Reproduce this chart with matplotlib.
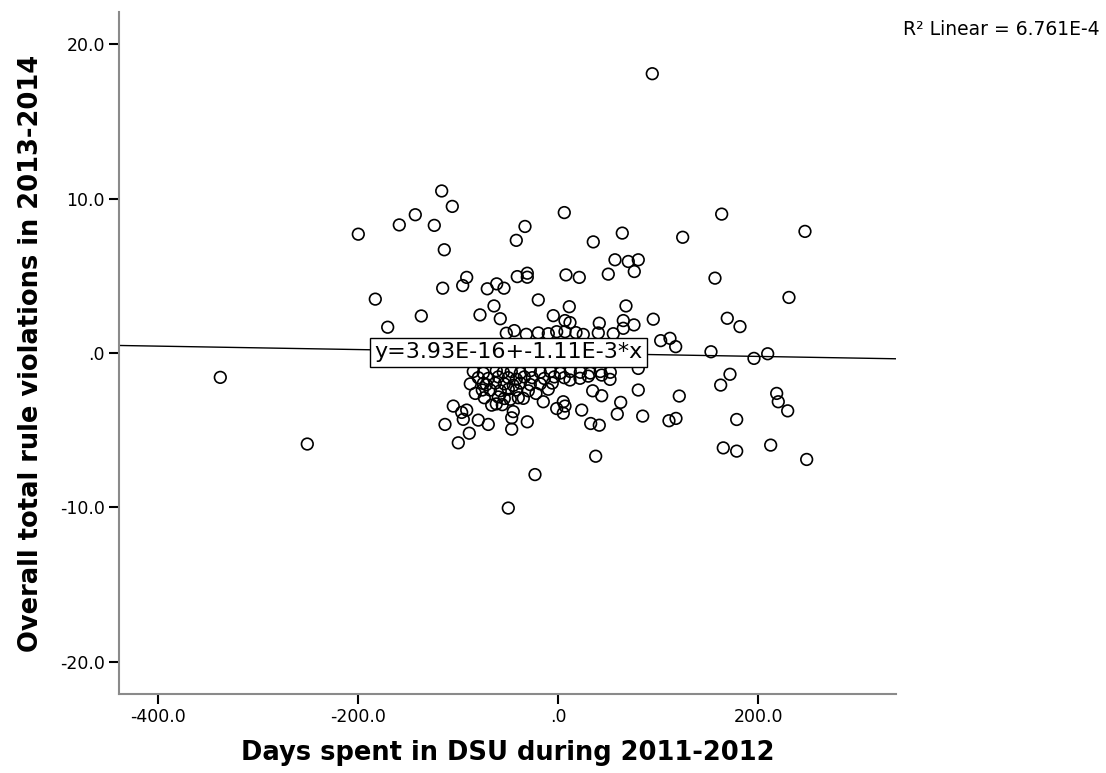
import numpy as np
import matplotlib
matplotlib.use("Agg")
import matplotlib.pyplot as plt
from matplotlib.ticker import FixedLocator

# --- データ ---
days = [
    -200, -116.6, -106, -143, -159, -124, -114, -42, -33.3, -41,
    -91.6, -95.6, -115.6, -71, -61.6, -54.3, -183, -137, -78.3, -64.3,
    -58, -170.6, -52, -44, 94, 6, 163.4, 246.7, 35, 64,
    124.4, 56.7, 70, 80, 76, 50, 7.7, 21, -31, -31,
    156.7, -20, 230.7, -5, 11, 67.7, 41, 65, 75.7, 95,
    6.7, 11.7, 169, 181.7, -32, -1.6, 6.7, 17.7, 65, 102.4,
    111.7, 117.4, 152.7, 195.7, 209.4,
    171.7, 162.4, 121, 80, 218.4, 220, 229.4, 178.4, 110.7, 117.7,
    84.4, 62.4, 59, 34.4, 43.4, 32.4, 41, 37.4, 165, 178.4,
    212.4, 248.4, -23.3, -50, 23.4, 5, 6.7, -1.6, 5, -15,
    -22.3, -31, -46.6, -70, -80, -89, -100, -96.6, -95, -105,
    -46.6, -45, -35, -83, -66.6, -48, 11.7, 21.7, 43.4, 51.7,
    80, -338, -251, -113.3, -91.6, -75, -68,
    # 回帰線の下の密集部分
    -85, -75, -62, -55, -47, -38, -28, -18, -8, 2, 12, 22, 32, 42, 52,
    -80, -70, -60, -50, -42, -34, -26, -14, -4, 6, 30,
    -88, -72, -63, -54, -45, -38, -28, -18, -6,
    -76, -58, -50, -42, -30, -10,
    -74, -60, -54, -40,
    -62, -56,
    -20, -10, 25, 40, 55,
]
violations = [
    7.7, 10.5, 9.5, 8.96, 8.3, 8.27, 6.69, 7.3, 8.2, 4.95,
    4.9, 4.37, 4.2, 4.16, 4.48, 4.2, 3.49, 2.4, 2.47, 3.05,
    2.22, 1.67, 1.28, 1.45, 18.1, 9.1, 9.0, 7.88, 7.2, 7.77,
    7.5, 6.04, 5.93, 6.04, 5.28, 5.11, 5.06, 4.9, 5.17, 4.91,
    4.85, 3.44, 3.6, 2.42, 3.0, 3.05, 1.93, 2.1, 1.82, 2.19,
    2.1, 1.97, 2.25, 1.71, 1.21, 1.38, 1.38, 1.32, 1.6, 0.8,
    0.95, 0.41, 0.08, -0.35, -0.05,
    -1.38, -2.08, -2.79, -2.4, -2.62, -3.16, -3.75, -4.31, -4.39, -4.24,
    -4.09, -3.2, -3.96, -2.45, -2.77, -4.57, -4.68, -6.69, -6.15, -6.36,
    -5.97, -6.9, -7.88, -10.05, -3.7, -3.16, -3.44, -3.6, -3.9, -3.16,
    -2.62, -4.46, -4.94, -4.63, -4.35, -5.2, -5.82, -3.85, -4.3, -3.44,
    -4.2, -3.8, -2.94, -2.62, -3.38, -3.0, -1.75, -1.64, -1.43, -1.71,
    -1.0, -1.58, -5.9, -4.63, -3.7, -1.97, -2.4,
    -1.2, -1.3, -1.15, -1.25, -1.2, -1.3, -1.15, -1.25, -1.2, -1.3, -1.2, -1.25, -1.3, -1.2, -1.25,
    -1.6, -1.65, -1.55, -1.6, -1.7, -1.55, -1.6, -1.65, -1.55, -1.6, -1.5,
    -2.0, -2.05, -1.95, -2.0, -2.1, -1.95, -2.05, -2.0, -1.95,
    -2.4, -2.45, -2.35, -2.4, -2.45, -2.35,
    -2.9, -2.85, -2.95, -2.9,
    -3.3, -3.35,
    1.3, 1.25, 1.2, 1.3, 1.25,
]

# 回帰直線の係数（図中の式）
intercept = 3.93e-16
slope = -1.11e-3

x_ticks = [-400, -200, 0, 200]
x_tick_labels = ["-400.0", "-200.0", ".0", "200.0"]
y_ticks = [20, 10, 0, -10, -20]
y_tick_labels = ["20.0", "10.0", ".0", "-10.0", "-20.0"]

x_min, x_max = -439.3, 337.7
y_min, y_max = -22.1, 22.1


fig = plt.figure(figsize=(11.06, 7.73), dpi=100)
ax = fig.add_axes([0.1076, 0.1022, 0.7025, 0.8823])

ax.scatter(days, violations, s=70, facecolors="none", edgecolors="black",
           linewidths=1.2, zorder=3)

# 回帰直線
line_x = np.array([x_min, x_max])
ax.plot(line_x, intercept + slope * line_x, color="black", linewidth=1.0, zorder=2)

ax.text(-50, 0.05, "y=3.93E-16+-1.11E-3*x", ha="center", va="center",
        fontsize=16, zorder=5,
        bbox=dict(boxstyle="square,pad=0.2", facecolor="white",
                  edgecolor="black", linewidth=1.0))

ax.set_xlim(x_min, x_max)
ax.set_ylim(y_min, y_max)

ax.xaxis.set_major_locator(FixedLocator(x_ticks))
ax.set_xticklabels(x_tick_labels)
ax.yaxis.set_major_locator(FixedLocator(y_ticks))
ax.set_yticklabels(y_tick_labels)

for side in ("top", "right"):
    ax.spines[side].set_visible(False)
for side in ("left", "bottom"):
    ax.spines[side].set_color("#8a8a8a")
    ax.spines[side].set_linewidth(1.5)

ax.tick_params(axis="both", direction="out", length=7, width=1.5,
               color="black", labelsize=12.5, pad=3)

ax.set_xlabel("Days spent in DSU during 2011-2012", fontsize=18.5,
              fontweight="bold", labelpad=10)
ax.set_ylabel("Overall total rule violations in 2013-2014", fontsize=18.5,
              fontweight="bold", labelpad=12)

fig.text(0.994, 0.962, "R² Linear = 6.761E-4", ha="right", va="center",
         fontsize=13.5)

fig.savefig("out.png", dpi=100)
